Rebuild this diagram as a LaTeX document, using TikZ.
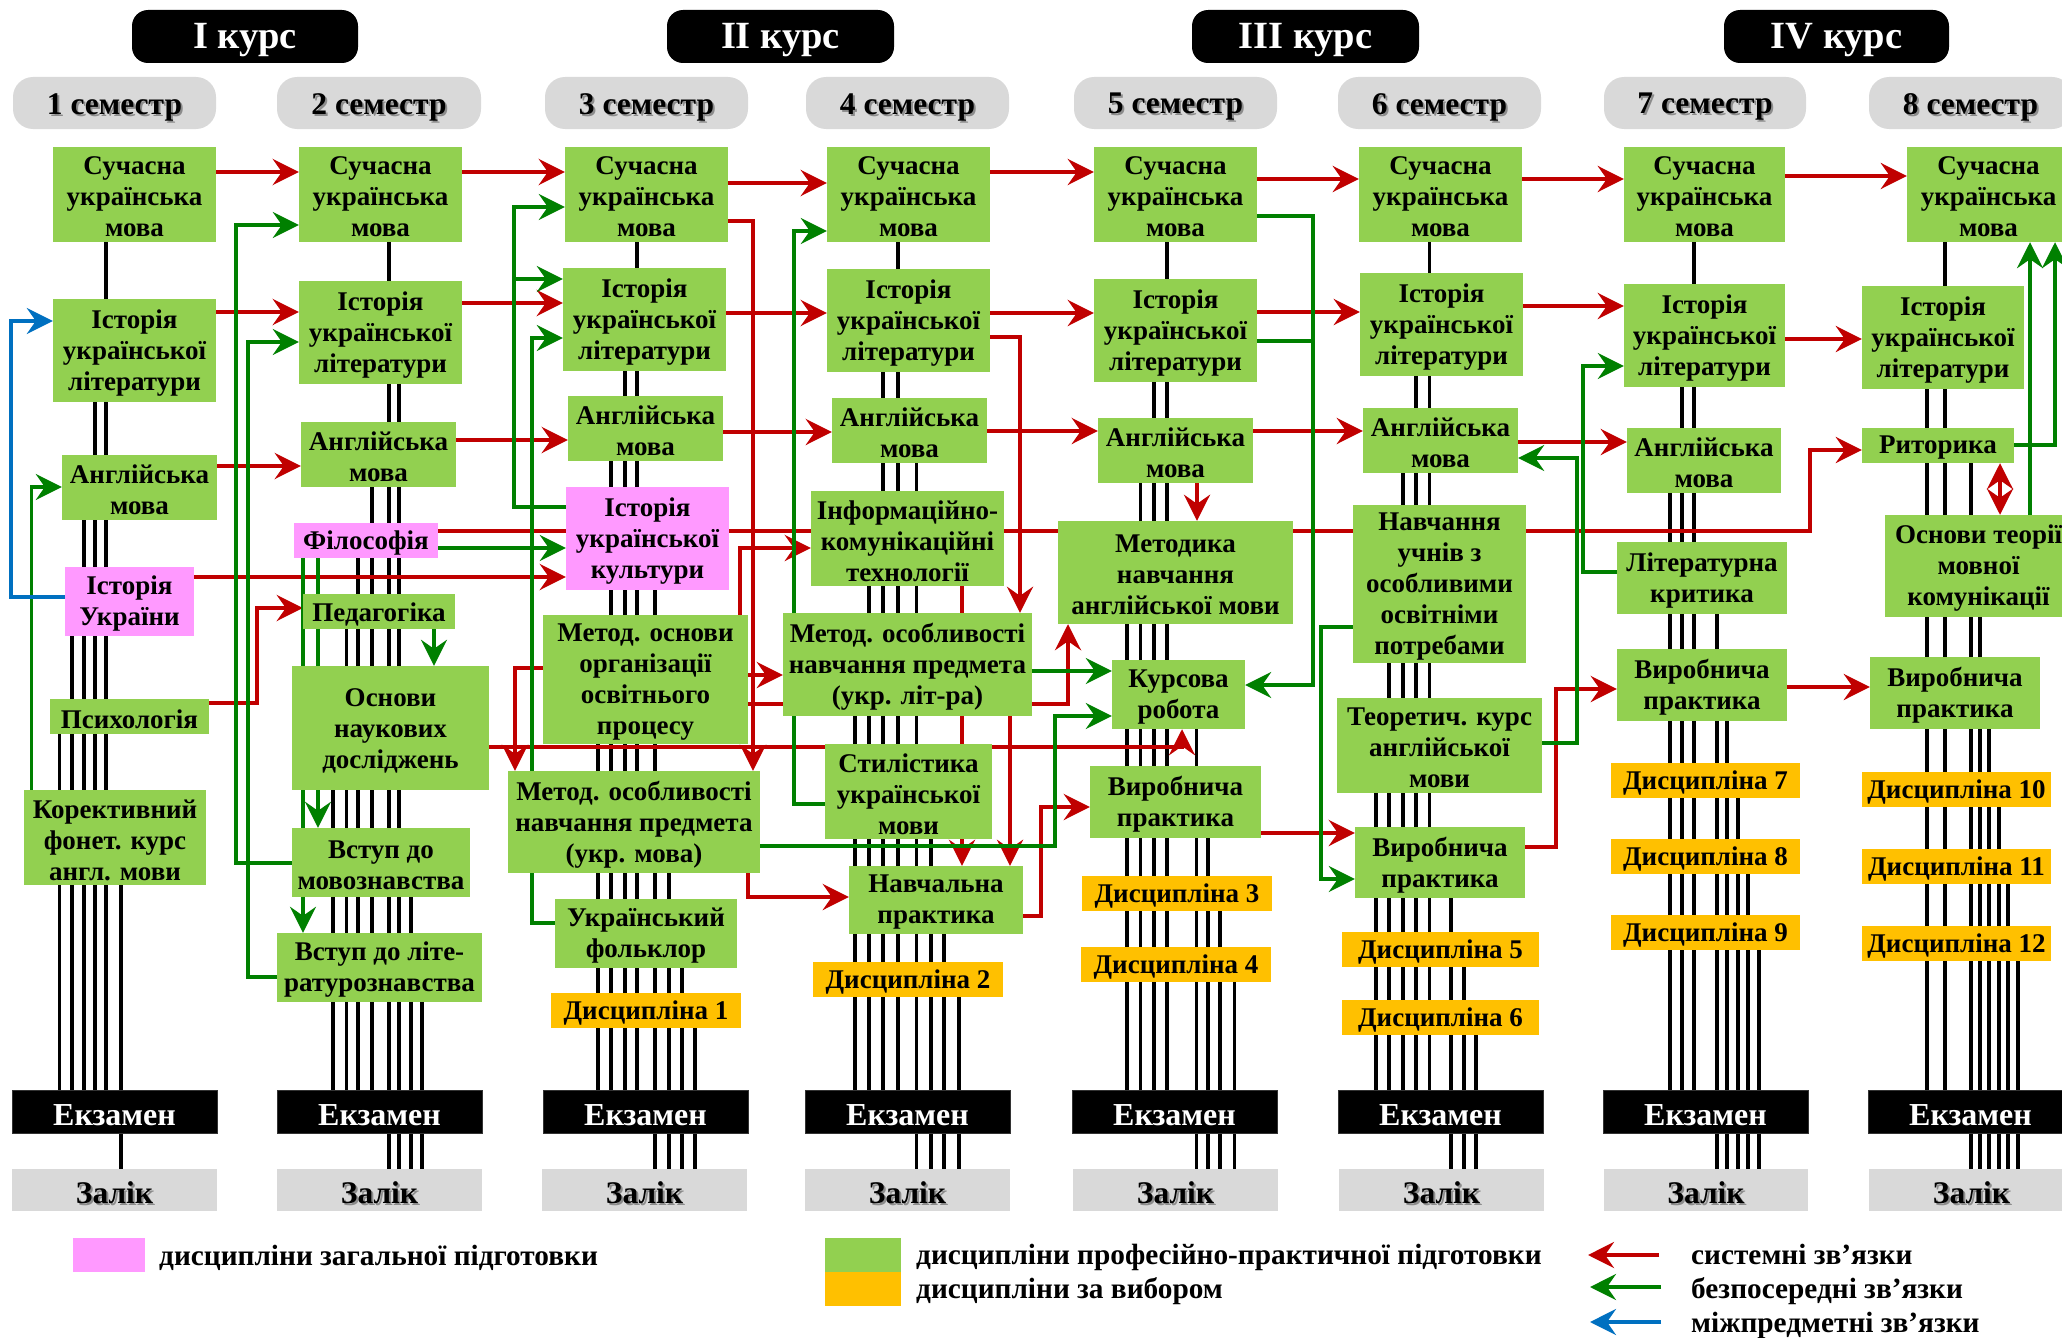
\documentclass[tikz,border=0pt]{standalone}
\usepackage{fontspec}
\setmainfont{Liberation Serif}
\usetikzlibrary{arrows.meta}
\pgfdeclarelayer{bottom}
\pgfdeclarelayer{bgl}
\pgfdeclarelayer{midl}
\pgfsetlayers{bottom,bgl,midl,main}
\definecolor{pgreen}{HTML}{92D050}
\definecolor{ppink}{HTML}{FF99FF}
\definecolor{porange}{HTML}{FFC000}
\definecolor{pred}{HTML}{C00000}
\definecolor{pgr}{HTML}{008000}
\definecolor{pblue}{HTML}{0070C0}
\definecolor{hgray}{HTML}{D9D9D9}
\tikzset{
  base/.style={inner sep=0pt, align=center, font=\bfseries\fontsize{27}{31}\selectfont},
  gbox/.style={base, fill=pgreen},
  pbox/.style={base, fill=ppink},
  obox/.style={base, fill=porange},
  hfont/.style={inner sep=0pt, font=\bfseries\fontsize{31.5}{36}\selectfont},
  coursebox/.style={inner sep=0pt, fill=black, rounded corners=16pt, text=white, font=\bfseries\fontsize{38.5}{44}\selectfont},
  sembox/.style={inner sep=0pt, fill=hgray, rounded corners=20pt},
  exambox/.style={inner sep=0pt, fill=black, draw=black!80, line width=1pt, text=white, font=\bfseries\fontsize{32}{36}\selectfont},
  zalbox/.style={inner sep=0pt, fill=hgray},
  txtonly/.style={fill=none, draw=none},
  legtext/.style={inner sep=0pt, anchor=base west, font=\bfseries\fontsize{29.3}{33}\selectfont},
  bl/.style={line width=3.2pt, black},
  rd/.style={draw=pred, line width=4pt, -{Stealth[length=26pt,width=26pt,inset=9pt]}},
  gn/.style={draw=pgr, line width=3.6pt, -{Stealth[length=26pt,width=26pt,inset=9pt]}},
  gnl/.style={draw=pgr, line width=3.6pt},
  bu/.style={draw=pblue, line width=3.6pt, -{Stealth[length=26pt,width=26pt,inset=9pt]}},
}
\def\tsh{2.5pt}
\newcommand\bx[7]{\node[#6, minimum width={(#4-#2)*1pt}, minimum height={(#5-#3)*1pt}] (#1) at ({(#2+#4)/2},{(#3+#5)/2}) {};
  \node[#6, txtonly] (#1t) at ([yshift={-\tsh}]#1.center) {#7};}
\newcommand\shbx[7]{\node[#6, minimum width={(#4-#2)*1pt}, minimum height={(#5-#3)*1pt}] (#1) at ({(#2+#4)/2},{(#3+#5)/2}) {};
  \node[hfont, text=black!45] (#1s) at ([xshift=2pt,yshift={-2pt-\tsh}]#1.center) {#7};
  \node[hfont] (#1u) at ([yshift={-\tsh}]#1.center) {#7};}
\newcommand\vl[3]{\draw[bl] (#1.south -| #3,0) -- (#2.north -| #3,0);}
\begin{document}
\begin{tikzpicture}[x=1pt,y=-1pt]
\useasboundingbox (0,0) rectangle (2062,1338);
\begin{pgfonlayer}{bottom}
\fill[white] (0,0) rectangle (2062,1338);
\end{pgfonlayer}
% course headers
\def\tsh{4pt}
\bx{C1}{132}{10}{358}{63}{coursebox}{I курс}
\bx{C2}{667}{10}{894}{63}{coursebox}{II курс}
\bx{C3}{1192}{10}{1419}{63}{coursebox}{III курс}
\bx{C4}{1724}{10}{1949}{63}{coursebox}{IV курс}
% semester headers
\shbx{H1}{13}{77}{216}{129}{sembox}{1 семестр}
\shbx{H2}{277}{77}{481}{129}{sembox}{2 семестр}
\shbx{H3}{545}{77}{748}{129}{sembox}{3 семестр}
\shbx{H4}{806}{77}{1009}{129}{sembox}{4 семестр}
\shbx{H5}{1074}{77}{1277}{129}{sembox}{5 семестр}
\shbx{H6}{1338}{77}{1541}{129}{sembox}{6 семестр}
\shbx{H7}{1604}{77}{1806}{129}{sembox}{7 семестр}
\shbx{H8}{1869}{77}{2072}{129}{sembox}{8 семестр}
% exams
\bx{E1}{12}{1090}{217}{1133}{exambox}{Екзамен}
\bx{E2}{277}{1090}{482}{1133}{exambox}{Екзамен}
\bx{E3}{543}{1090}{748}{1133}{exambox}{Екзамен}
\bx{E4}{805}{1090}{1010}{1133}{exambox}{Екзамен}
\bx{E5}{1072}{1090}{1277}{1133}{exambox}{Екзамен}
\bx{E6}{1338}{1090}{1543}{1133}{exambox}{Екзамен}
\bx{E7}{1603}{1090}{1808}{1133}{exambox}{Екзамен}
\bx{E8}{1868}{1090}{2073}{1133}{exambox}{Екзамен}
% zalik
\def\tsh{3pt}
\shbx{Z1}{12}{1169}{217}{1211}{zalbox}{Залік}
\shbx{Z2}{277}{1169}{482}{1211}{zalbox}{Залік}
\shbx{Z3}{542}{1169}{747}{1211}{zalbox}{Залік}
\shbx{Z4}{805}{1169}{1010}{1211}{zalbox}{Залік}
\shbx{Z5}{1073}{1169}{1278}{1211}{zalbox}{Залік}
\shbx{Z6}{1339}{1169}{1544}{1211}{zalbox}{Залік}
\shbx{Z7}{1604}{1169}{1808}{1211}{zalbox}{Залік}
\shbx{Z8}{1869}{1169}{2074}{1211}{zalbox}{Залік}
\def\tsh{2.5pt}
% column 1
\bx{S1a}{53}{147}{216}{242}{gbox}{Сучасна\\українська\\мова}
\bx{S1b}{53}{299}{216}{402}{gbox}{Історія\\української\\літератури}
\bx{S1c}{62}{455}{217}{520}{gbox}{Англійська\\мова}
\bx{S1d}{65}{567}{194}{636}{pbox}{Історія\\України}
\bx{S1e}{50}{699}{209}{734}{gbox}{Психологія}
\bx{S1f}{24}{790}{206}{885}{gbox}{Корективний\\фонет. курс\\англ. мови}
% column 2
\bx{S2a}{299}{147}{462}{242}{gbox}{Сучасна\\українська\\мова}
\bx{S2b}{299}{281}{462}{384}{gbox}{Історія\\української\\літератури}
\bx{S2c}{301}{422}{456}{487}{gbox}{Англійська\\мова}
\bx{S2d}{294}{523}{438}{558}{pbox}{Філософія}
\bx{S2e}{303}{594}{455}{629}{gbox}{Педагогіка}
\bx{S2f}{292}{666}{489}{790}{gbox}{Основи\\наукових\\досліджень}
\bx{S2g}{292}{828}{470}{897}{gbox}{Вступ до\\мовознавства}
\bx{S2h}{277}{933}{482}{1002}{gbox}{Вступ до літе-\\ратурознавства}
% column 3
\bx{S3a}{565}{147}{728}{242}{gbox}{Сучасна\\українська\\мова}
\bx{S3b}{563}{268}{726}{371}{gbox}{Історія\\української\\літератури}
\bx{S3c}{568}{396}{723}{461}{gbox}{Англійська\\мова}
\bx{S3d}{566}{487}{729}{590}{pbox}{Історія\\української\\культури}
\bx{S3e}{543}{615}{748}{744}{gbox}{Метод. основи\\організації\\освітнього\\процесу}
\bx{S3f}{508}{771}{760}{873}{gbox}{Метод. особливості\\навчання предмета\\(укр. мова)}
\bx{S3g}{555}{899}{737}{968}{gbox}{Український\\фольклор}
\bx{S3h}{551}{993}{741}{1028}{obox}{Дисципліна 1}
% column 4
\bx{S4a}{827}{147}{990}{242}{gbox}{Сучасна\\українська\\мова}
\bx{S4b}{827}{269}{990}{372}{gbox}{Історія\\української\\літератури}
\bx{S4c}{832}{398}{987}{463}{gbox}{Англійська\\мова}
\bx{S4d}{811}{491}{1004}{586}{gbox}{Інформаційно-\\комунікаційні\\технології}
\bx{S4e}{783}{613}{1032}{716}{gbox}{Метод. особливості\\навчання предмета\\(укр. літ-ра)}
\bx{S4f}{825}{744}{992}{839}{gbox}{Стилістика\\української\\мови}
\bx{S4g}{849}{866}{1023}{934}{gbox}{Навчальна\\практика}
\bx{S4h}{813}{962}{1003}{997}{obox}{Дисципліна 2}
% column 5
\bx{S5a}{1094}{147}{1257}{242}{gbox}{Сучасна\\українська\\мова}
\bx{S5b}{1094}{279}{1257}{382}{gbox}{Історія\\української\\літератури}
\bx{S5c}{1098}{418}{1253}{483}{gbox}{Англійська\\мова}
\bx{S5d}{1058}{521}{1293}{624}{gbox}{Методика\\навчання\\англійської мови}
\bx{S5e}{1112}{660}{1245}{729}{gbox}{Курсова\\робота}
\bx{S5f}{1090}{766}{1261}{838}{gbox}{Виробнича\\практика}
\bx{S5g}{1082}{876}{1272}{911}{obox}{Дисципліна 3}
\bx{S5h}{1081}{947}{1271}{982}{obox}{Дисципліна 4}
% column 6
\bx{S6a}{1359}{147}{1522}{242}{gbox}{Сучасна\\українська\\мова}
\bx{S6b}{1360}{273}{1523}{376}{gbox}{Історія\\української\\літератури}
\bx{S6c}{1363}{408}{1518}{473}{gbox}{Англійська\\мова}
\bx{S6d}{1353}{505}{1526}{663}{gbox}{Навчання\\учнів з\\особливими\\освітніми\\потребами}
\bx{S6e}{1337}{698}{1542}{793}{gbox}{Теоретич. курс\\англійської\\мови}
\bx{S6f}{1355}{827}{1525}{898}{gbox}{Виробнича\\практика}
\bx{S6g}{1342}{932}{1539}{967}{obox}{Дисципліна 5}
\bx{S6h}{1342}{1000}{1539}{1035}{obox}{Дисципліна 6}
% column 7
\bx{S7a}{1624}{147}{1785}{242}{gbox}{Сучасна\\українська\\мова}
\bx{S7b}{1624}{284}{1785}{387}{gbox}{Історія\\української\\літератури}
\bx{S7c}{1627}{428}{1781}{493}{gbox}{Англійська\\мова}
\bx{S7d}{1617}{542}{1787}{614}{gbox}{Літературна\\критика}
\bx{S7e}{1617}{649}{1787}{721}{gbox}{Виробнича\\практика}
\bx{S7f}{1611}{763}{1800}{798}{obox}{Дисципліна 7}
\bx{S7g}{1611}{839}{1800}{874}{obox}{Дисципліна 8}
\bx{S7h}{1611}{915}{1800}{950}{obox}{Дисципліна 9}
% column 8
\bx{S8a}{1907}{147}{2070}{242}{gbox}{Сучасна\\українська\\мова}
\bx{S8b}{1862}{286}{2024}{389}{gbox}{Історія\\української\\літератури}
\bx{S8c}{1862}{428}{2014}{463}{gbox}{Риторика}
\bx{S8d}{1885}{515}{2072}{617}{gbox}{Основи теорії\\мовної\\комунікації}
\bx{S8e}{1870}{657}{2040}{729}{gbox}{Виробнича\\практика}
\bx{S8f}{1862}{772}{2051}{807}{obox}{Дисципліна 10}
\bx{S8g}{1862}{849}{2051}{884}{obox}{Дисципліна 11}
\bx{S8h}{1862}{926}{2051}{961}{obox}{Дисципліна 12}
% legend
\node[fill=ppink, inner sep=0pt, minimum width=72pt, minimum height=34pt] (Lp) at (109,1255) {};
\node[legtext] (Lpt) at (159,1265) {дисципліни загальної підготовки};
\node[fill=pgreen, inner sep=0pt, minimum width=76pt, minimum height=34pt] (Lg) at (863,1255) {};
\node[fill=porange, inner sep=0pt, minimum width=76pt, minimum height=34pt] (Lo) at (863,1289) {};
\node[legtext] (Lgt) at (916,1264) {дисципліни професійно-практичної підготовки};
\node[legtext] (Lot) at (916,1298) {дисципліни за вибором};
\coordinate (la1) at (1659,1255); \coordinate (lb1) at (1588,1255);
\coordinate (la2) at (1661,1287); \coordinate (lb2) at (1590,1287);
\coordinate (la3) at (1661,1322); \coordinate (lb3) at (1590,1322);
\draw[rd] (la1) -- (lb1);
\draw[gn] (la2) -- (lb2);
\draw[bu] (la3) -- (lb3);
\node[legtext] (Lr) at (1691,1264) {системні зв’язки};
\node[legtext] (Lgr) at (1691,1298) {безпосередні зв’язки};
\node[legtext] (Lbl) at (1691,1332) {міжпредметні зв’язки};
% black lines
\begin{pgfonlayer}{bgl}
\vl{S1a}{E1}{106}\vl{S1b}{E1}{95}\vl{S1c}{E1}{84}\vl{S1d}{E1}{72}\vl{S1e}{E1}{59.5}\vl{S1f}{Z1}{121}
\vl{S2a}{Z2}{389}\vl{S2b}{Z2}{399}\vl{S2c}{E2}{372}\vl{S2d}{E2}{358}\vl{S2e}{E2}{346.5}\vl{S2f}{E2}{333}\vl{S2g}{Z2}{411}\vl{S2h}{Z2}{422}
\vl{S3a}{E3}{637}\vl{S3b}{E3}{625}\vl{S3c}{E3}{611}\vl{S3d}{Z3}{655}\vl{S3e}{E3}{598}\vl{S3f}{Z3}{669}\vl{S3g}{Z3}{682}\vl{S3h}{Z3}{695}
\vl{S4a}{E4}{898}\vl{S4b}{E4}{883}\vl{S4c}{Z4}{916.5}\vl{S4d}{E4}{869}\vl{S4e}{E4}{855}\vl{S4f}{Z4}{931}\vl{S4g}{Z4}{944}\vl{S4h}{Z4}{959}
\vl{S5a}{E5}{1167}\vl{S5b}{E5}{1154}\vl{S5c}{E5}{1140.5}\vl{S5d}{E5}{1127}\vl{S5e}{Z5}{1196.6}\vl{S5f}{Z5}{1208}\vl{S5g}{Z5}{1220}\vl{S5h}{Z5}{1234.5}
\vl{S6a}{E6}{1429.5}\vl{S6b}{E6}{1416}\vl{S6c}{E6}{1403}\vl{S6d}{E6}{1389}\vl{S6e}{E6}{1376}\vl{S6f}{Z6}{1451}\vl{S6g}{Z6}{1464}\vl{S6h}{Z6}{1476}
\vl{S7a}{E7}{1694}\vl{S7b}{E7}{1682}\vl{S7c}{E7}{1670}\vl{S7d}{Z7}{1717}\vl{S7e}{Z7}{1727}\vl{S7f}{Z7}{1738}\vl{S7g}{Z7}{1748}\vl{S7h}{Z7}{1759}
\vl{S8a}{E8}{1945}\vl{S8b}{E8}{1927}\vl{S8c}{Z8}{1971}\vl{S8d}{Z8}{1980}\vl{S8e}{Z8}{1989}\vl{S8f}{Z8}{1999}\vl{S8g}{Z8}{2008}\vl{S8h}{Z8}{2018}
\end{pgfonlayer}
% coloured connectors
\begin{pgfonlayer}{midl}
% red chains
\draw[rd] (S1a.east |- 0,172) -- (S2a.west |- 0,172);
\draw[rd] (S2a.east |- 0,172) -- (S3a.west |- 0,172);
\draw[rd] (S3a.east |- 0,183) -- (S4a.west |- 0,183);
\draw[rd] (S4a.east |- 0,172) -- (S5a.west |- 0,172);
\draw[rd] (S5a.east |- 0,179) -- (S6a.west |- 0,179);
\draw[rd] (S6a.east |- 0,179) -- (S7a.west |- 0,179);
\draw[rd] (S7a.east |- 0,176) -- (S8a.west |- 0,176);
\draw[rd] (S1b.east |- 0,312) -- (S2b.west |- 0,312);
\draw[rd] (S2b.east |- 0,303) -- (S3b.west |- 0,303);
\draw[rd] (S3b.east |- 0,313) -- (S4b.west |- 0,313);
\draw[rd] (S4b.east |- 0,313) -- (S5b.west |- 0,313);
\draw[rd] (S5b.east |- 0,312) -- (S6b.west |- 0,312);
\draw[rd] (S6b.east |- 0,306) -- (S7b.west |- 0,306);
\draw[rd] (S7b.east |- 0,339) -- (S8b.west |- 0,339);
\draw[rd] (S1c.east |- 0,466) -- (S2c.west |- 0,466);
\draw[rd] (S2c.east |- 0,440) -- (S3c.west |- 0,440);
\draw[rd] (S3c.east |- 0,432) -- (S4c.west |- 0,432);
\draw[rd] (S4c.east |- 0,431) -- (S5c.west |- 0,431);
\draw[rd] (S5c.east |- 0,431) -- (S6c.west |- 0,431);
\draw[rd] (S6c.east |- 0,442) -- (S7c.west |- 0,442);
% other red
\draw[rd] (S2d.east |- 0,531) -| (1810,450) -- (S8c.west |- 0,450);
\draw[rd] (S1d.east |- 0,577) -- (S3d.west |- 0,577);
\draw[rd] (S1e.east |- 0,703) -| (257,608) -- (S2e.west |- 0,608);
\draw[rd] (S3e.west |- 0,668) -| (S3f.north -| 515,0);
\draw[rd] (S3a.east |- 0,221) -| (S3f.north -| 753,0);
\draw[rd] (S2f.east |- 0,747) -| (S5e.south -| 1182,0);
\draw[rd] (S4b.east |- 0,337) -| (S4e.north -| 1020,0);
\draw[rd] (S3e.north -| 740,0) |- (S4d.west |- 0,548);
\draw[rd] (S3e.east |- 0,675) -- (S4e.west |- 0,675);
\draw[rd] (S3e.east |- 0,704) -| (S5d.south -| 1068,0);
\draw[rd] (S4d.south -| 962,0) -- (S4g.north -| 962,0);
\draw[rd] (S4e.south -| 1010,0) -- (S4g.north -| 1010,0);
\draw[rd] (S3f.south -| 748,0) |- (S4g.west |- 0,897);
\draw[rd] (S4g.east |- 0,916) -| (1041,807) -- (S5f.west |- 0,807);
\draw[rd] (S5c.south -| 1197,0) -- (S5d.north -| 1197,0);
\draw[rd] (S5f.east |- 0,833) -- (S6f.west |- 0,833);
\draw[rd] (S6f.east |- 0,847) -| (1556,689) -- (S7e.west |- 0,689);
\draw[rd] (S7e.east |- 0,687) -- (S8e.west |- 0,687);
\draw[rd, {Stealth[length=26pt,width=26pt,inset=9pt]}-{Stealth[length=26pt,width=26pt,inset=9pt]}] (S8c.south -| 2000,0) -- (S8d.north -| 2000,0);
% green
\draw[gn] (S1f.north -| 31.5,0) |- (S1c.west |- 0,487);
\draw[gn] (S2g.west |- 0,863) -| (236,225) -- (S2a.west |- 0,225);
\draw[gn] (S2h.west |- 0,977) -| (248,342) -- (S2b.west |- 0,342);
\draw[gn] (S2d.south -| 318,0) -- (S2g.north -| 318,0);
\draw[gn] (S2d.south -| 303,0) -- (S2h.north -| 303,0);
\draw[gn] (S2e.south -| 434,0) -- (S2f.north -| 434,0);
\draw[gn] (S2d.east |- 0,548) -- (S3d.west |- 0,548);
\draw[gn] (S3d.west |- 0,507) -| (514,207) -- (S3a.west |- 0,207);
\coordinate (j1) at (514,279);
\draw[gn] (j1) -- (S3b.west |- 0,279);
\draw[gn] (S3g.west |- 0,923) -| (532,338) -- (S3b.west |- 0,338);
\draw[gn] (S4f.west |- 0,804) -| (794,231) -- (S4a.west |- 0,231);
\draw[gn] (S4e.east |- 0,671) -- (S5e.west |- 0,671);
\draw[gn] (S3f.east |- 0,846) -| (1055,716) -- (S5e.west |- 0,716);
\draw[gn] (S5a.east |- 0,216) -| (1313,685) -- (S5e.east |- 0,685);
\coordinate (j2) at (1313,341);
\draw[gnl] (S5b.east |- 0,341) -- (j2);
\draw[gn] (S6d.west |- 0,627) -| (1321,879) -- (S6f.west |- 0,879);
\draw[gn] (S6e.east |- 0,743) -| (1577,458) -- (S6c.east |- 0,458);
\draw[gn] (S7d.west |- 0,572) -| (1583,366) -- (S7b.west |- 0,366);
\draw[gn] (S8c.east |- 0,445) -| (S8a.south -| 2055,0);
\draw[gn] (S8d.north -| 2030,0) -- (S8a.south -| 2030,0);
% blue
\draw[bu] (S1d.west |- 0,597) -| (11,321) -- (S1b.west |- 0,321);
\end{pgfonlayer}
\end{tikzpicture}
\end{document}
